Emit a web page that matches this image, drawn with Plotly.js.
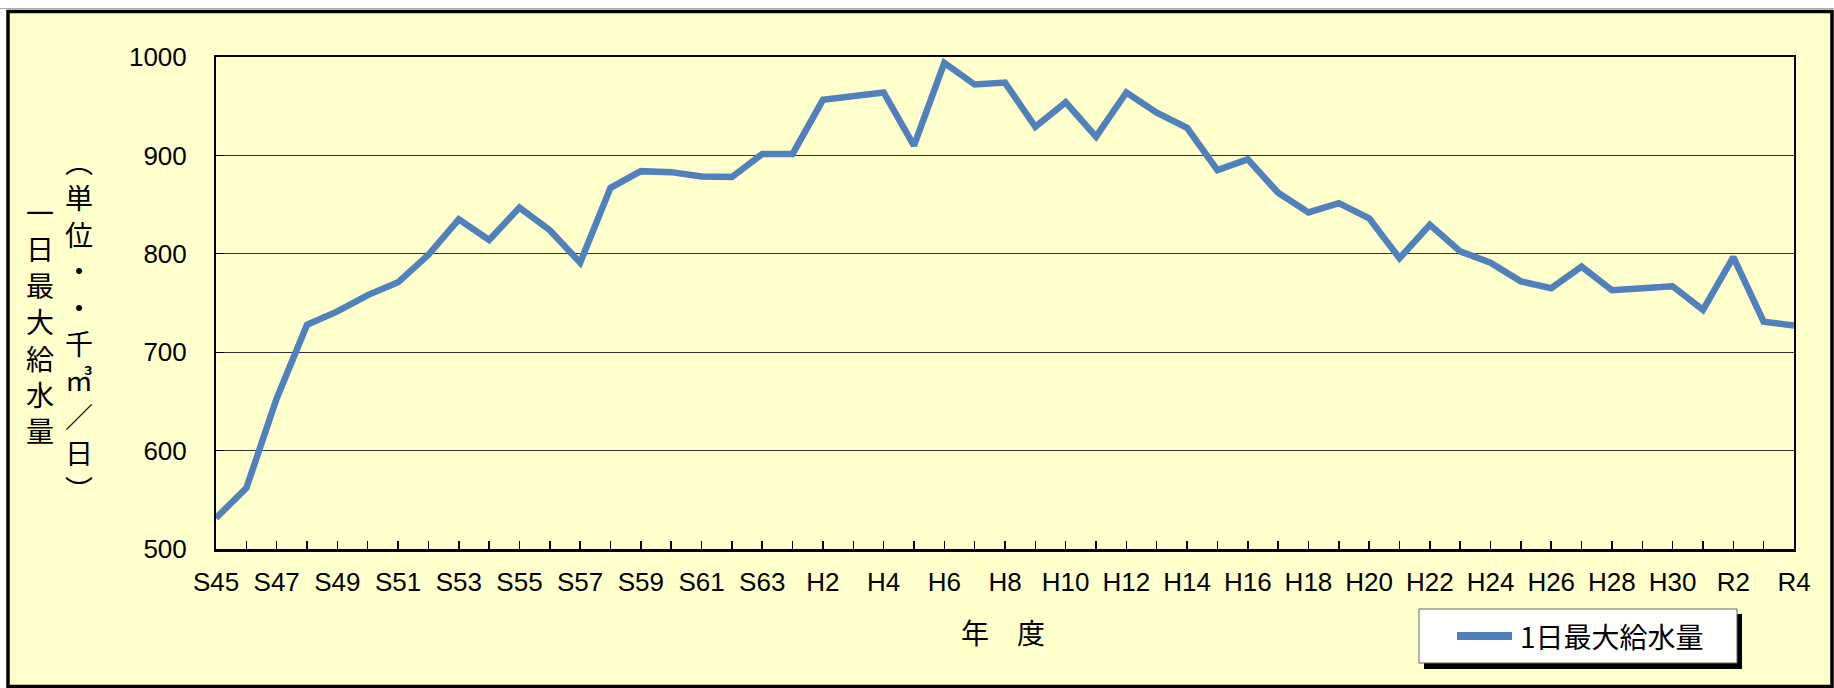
<!DOCTYPE html>
<html>
<head>
<meta charset="utf-8">
<script src="https://cdn.plot.ly/plotly-3.0.1.min.js"></script>
<style>
  html, body { margin: 0; padding: 0; background: #ffffff; }
  #chart { width: 1834px; height: 688px; }
</style>
</head>
<body>
<div id="chart"></div>
<script>
// ---- data ----
const years = [
  'S45','S46','S47','S48','S49','S50','S51','S52','S53','S54',
  'S55','S56','S57','S58','S59','S60','S61','S62','S63',
  'H1','H2','H3','H4','H5','H6','H7','H8','H9','H10',
  'H11','H12','H13','H14','H15','H16','H17','H18','H19','H20',
  'H21','H22','H23','H24','H25','H26','H27','H28','H29','H30',
  'R1','R2','R3','R4'
];
const maxDailySupply = [
  531.5, 562, 653, 728, 741.5, 758, 771, 799, 835, 814,
  847, 824, 791, 867, 884, 883, 878.5, 878, 901.5,
  901.5, 956.5, 960, 964, 910, 994, 972, 974, 929, 954,
  919, 964, 943.5, 928, 885, 896, 862, 842, 851.5, 836,
  795.5, 829.5, 802.5, 791, 772, 765, 787, 763, 765, 767,
  743, 796.5, 731, 727
];
const shownTickLabels = [
  'S45','S47','S49','S51','S53','S55','S57','S59','S61','S63',
  'H2','H4','H6','H8','H10','H12','H14','H16','H18','H20',
  'H22','H24','H26','H28','H30','R2','R4'
];
const yTicks = [500, 600, 700, 800, 900, 1000];
const seriesName = '1日最大給水量';
const xTitle = '年　度';
const yTitleMain = ['一','日','最','大','給','水','量'];
const yTitleUnit = ['︵','単','位','・','・','千','㎥','／','日','︶'];

// ---- layout helpers ----
const W = 1834, H = 688;
const L = 216, R = 1794, T = 57, B = 549;
const PW = R - L, PH = B - T;
const px = x => (x - L) / PW;
const py = y => (B - y) / PH;

const cjk = '"Noto Sans CJK JP", "Noto Sans CJK SC", sans-serif';
const latin = '"Liberation Sans", Arial, sans-serif';
const blue = '#4F81BD';

const trace = {
  type: 'scatter',
  mode: 'lines',
  x: years,
  y: maxDailySupply,
  name: seriesName,
  line: { color: blue, width: 6.5 },
  hoverinfo: 'skip',
  showlegend: false
};

const layout = {
  width: W,
  height: H,
  margin: { l: L, r: W - R, t: T, b: H - B, pad: 0 },
  paper_bgcolor: '#ffffff',
  plot_bgcolor: '#ffffff',
  showlegend: false,
  xaxis: {
    type: 'category',
    range: [0, years.length - 1],
    tickmode: 'array',
    tickvals: years,
    ticktext: years.map(y => shownTickLabels.includes(y) ? y : ''),
    ticks: 'inside',
    ticklen: 8,
    tickwidth: 1.5,
    tickcolor: '#000',
    ticklabelstandoff: 8,
    tickfont: { family: latin, size: 26, color: '#000' },
    showline: true,
    linecolor: '#000',
    linewidth: 2.5,
    mirror: true,
    showgrid: false,
    zeroline: false,
    fixedrange: true
  },
  yaxis: {
    range: [500, 1000],
    tickmode: 'array',
    tickvals: yTicks,
    ticktext: yTicks.map(String),
    ticks: 'inside',
    ticklen: 8,
    tickwidth: 1,
    tickcolor: '#000',
    ticklabelstandoff: 22,
    tickfont: { family: latin, size: 26, color: '#000' },
    showline: true,
    linecolor: '#000',
    linewidth: 2,
    mirror: true,
    showgrid: true,
    gridcolor: '#333',
    gridwidth: 1,
    zeroline: false,
    fixedrange: true
  },
  shapes: [
    // outer yellow panel with black frame
    { type: 'rect', xref: 'paper', yref: 'paper', layer: 'below',
      x0: px(8), x1: px(1832), y0: py(686.5), y1: py(11.5),
      fillcolor: '#FFFFCC', line: { color: '#000', width: 3.5 } },
    // thin grey line above frame
    { type: 'line', xref: 'paper', yref: 'paper', layer: 'below',
      x0: px(0), x1: px(1834), y0: py(8.5), y1: py(8.5),
      line: { color: '#aaa', width: 1 } },
    // legend shadow
    { type: 'rect', xref: 'paper', yref: 'paper', layer: 'above',
      x0: px(1424), x1: px(1742), y0: py(669), y1: py(614),
      fillcolor: '#000', line: { width: 0 } },
    // legend box
    { type: 'rect', xref: 'paper', yref: 'paper', layer: 'above',
      x0: px(1419), x1: px(1737), y0: py(663), y1: py(609),
      fillcolor: '#fff', line: { color: '#666', width: 1 } },
    // legend swatch
    { type: 'line', xref: 'paper', yref: 'paper', layer: 'above',
      x0: px(1457), x1: px(1512), y0: py(636), y1: py(636),
      line: { color: blue, width: 8 } }
  ],
  annotations: [
    { text: seriesName, xref: 'paper', yref: 'paper', showarrow: false,
      x: px(1518), y: py(636), xanchor: 'left', yanchor: 'middle',
      font: { family: cjk, size: 28, color: '#000' } },
    { text: xTitle, xref: 'paper', yref: 'paper', showarrow: false,
      x: px(1003), y: py(632), xanchor: 'center', yanchor: 'middle',
      font: { family: cjk, size: 28, color: '#000' } },
    { text: yTitleMain.join('<br>'), xref: 'paper', yref: 'paper', showarrow: false,
      x: px(39.5), y: py(321.4), xanchor: 'center', yanchor: 'middle',
      font: { family: cjk, size: 28, color: '#000' } },
    { text: yTitleUnit.join('<br>'), xref: 'paper', yref: 'paper', showarrow: false,
      x: px(78.5), y: py(325), xanchor: 'center', yanchor: 'middle',
      font: { family: cjk, size: 28, color: '#000' } }
  ]
};

Plotly.newPlot('chart', [trace], layout, { staticPlot: true, displayModeBar: false });
</script>
</body>
</html>
